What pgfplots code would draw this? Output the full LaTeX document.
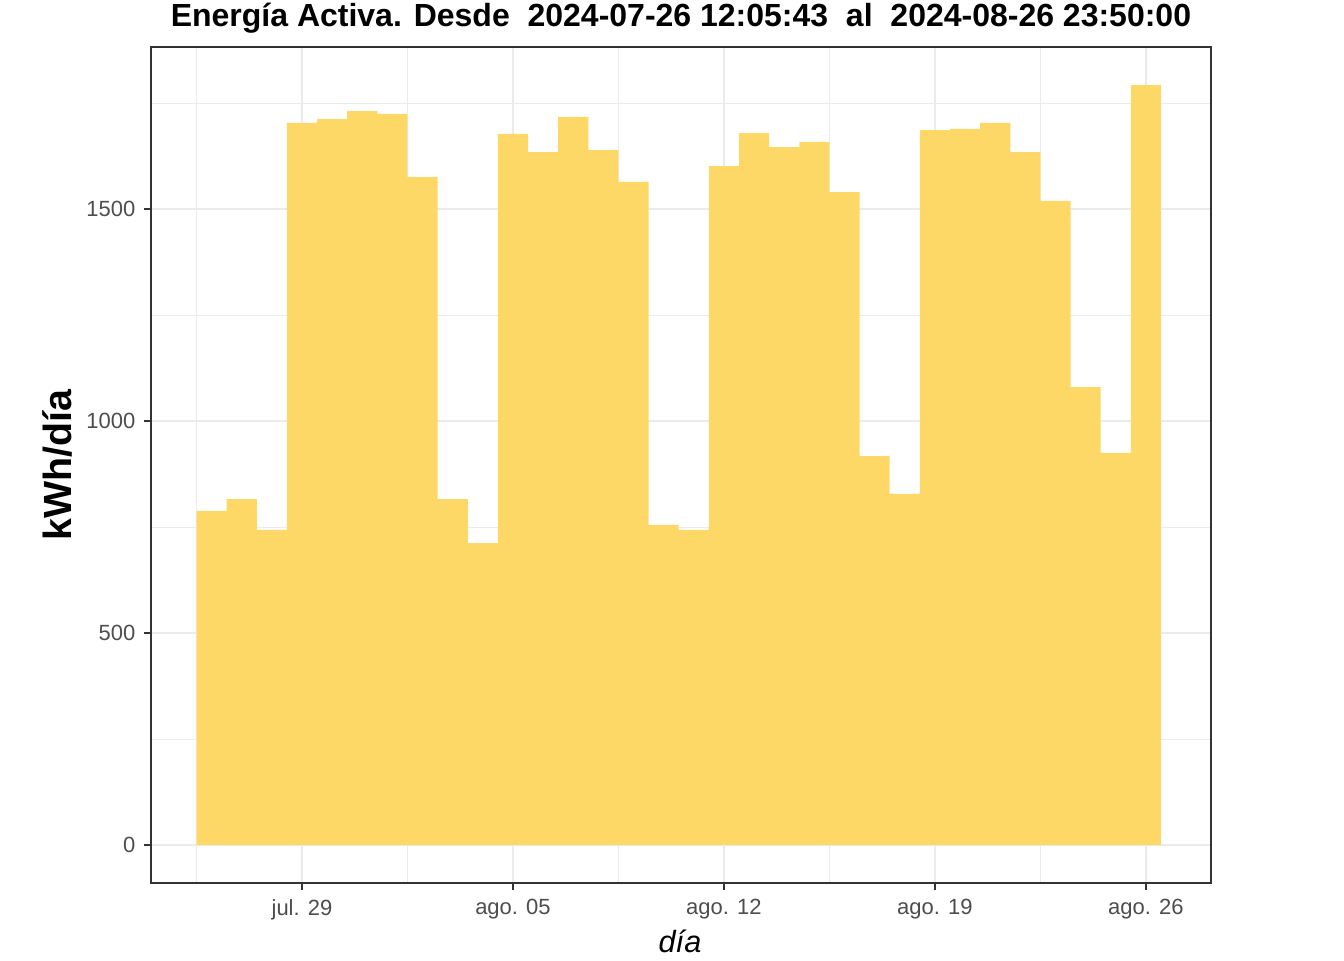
\documentclass[border=0pt]{standalone}
\usepackage{pgfplots}
\pgfplotsset{compat=1.18}
\usepackage{fontspec}
\setmainfont{Liberation Sans}
\definecolor{barc}{HTML}{FDD866}
\definecolor{gridc}{HTML}{EBEBEB}
\definecolor{framec}{HTML}{333333}
\definecolor{tickc}{HTML}{4D4D4D}
\begin{document}
\begin{tikzpicture}
\useasboundingbox (0,0) rectangle (1008pt,720pt);
\begin{axis}[
  at={(113.25pt,57.75pt)}, anchor=south west,
  width=795pt, height=627pt, scale only axis,
  xmin=-5.01, xmax=30.16, ymin=-89.6, ymax=1882,
  xtick={0,7,14,21,28},
  xticklabels={jul. 29, ago. 05, ago. 12, ago. 19, ago. 26},
  minor xtick={-3.5,3.5,10.5,17.5,24.5},
  ytick={0,500,1000,1500},
  minor ytick={250,750,1250,1750},
  grid=both,
  major grid style={color=gridc, line width=0.9pt},
  minor grid style={color=gridc, line width=0.45pt},
  axis line style={color=framec, line width=1pt},
  tick style={color=framec, line width=1pt},
  major tick length=5.25pt, minor tick length=0pt,
  tick align=outside, xtick pos=bottom, ytick pos=left,
  ticklabel style={font=\fontsize{16.5}{18}\selectfont, text=tickc},
  xticklabel style={yshift=-3.5pt},
  yticklabel style={xshift=-3pt},
  /pgf/number format/assume math mode=true,
  /pgf/number format/1000 sep={},
]
\addplot[ybar, bar width=1, bar shift=0pt, fill=barc, draw=none] coordinates {
(-3,788) (-2,816) (-1,743) (0,1703) (1,1712) (2,1731) (3,1724) (4,1575)
(5,816) (6,712) (7,1677) (8,1634) (9,1717) (10,1639) (11,1564) (12,755)
(13,743) (14,1601) (15,1679) (16,1646) (17,1658) (18,1540) (19,917) (20,828)
(21,1686) (22,1689) (23,1703) (24,1634) (25,1519) (26,1080) (27,925) (28,1792)
};
\end{axis}
\node[font=\bfseries\fontsize{24}{27}\selectfont, anchor=base] at (510.75pt,699.75pt) {Energía Activa. Desde\ \ 2024-07-26 12:05:43\ \ al\ \ 2024-08-26 23:50:00};
\node[font=\bfseries\fontsize{29.5}{32}\selectfont, rotate=90] at (42.75pt,371.25pt) {kWh/día};
\node[font=\itshape\fontsize{23}{26}\selectfont, anchor=base] at (510pt,6pt) {día};
\end{tikzpicture}
\end{document}
